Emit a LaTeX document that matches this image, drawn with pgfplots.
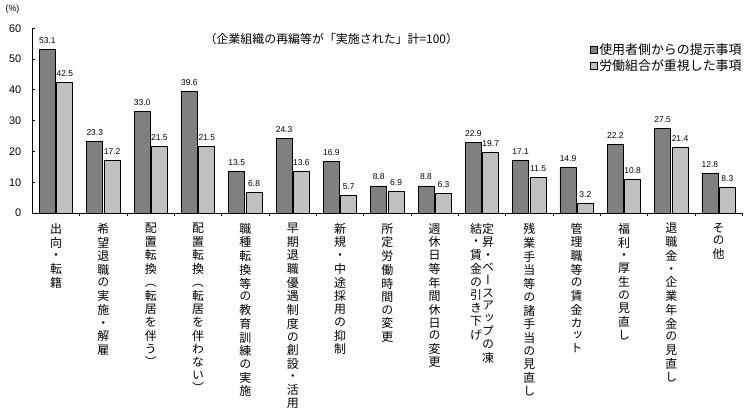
\documentclass[border=0pt]{standalone}
\usepackage{fontspec}
\usepackage{pgfplots}
\pgfplotsset{compat=1.18}
\setmainfont{Noto Sans CJK JP}
\newfontfamily\cjkv[RawFeature=+vert]{Noto Sans CJK JP}
\newfontfamily\num{Liberation Sans}
\definecolor{dk}{HTML}{808080}
\definecolor{lt}{HTML}{C0C0C0}
\def\vsres{}
\def\vsbuild#1{\gdef\vsres{}\vsloop#1\relax}
\def\vsloop#1{\ifx\relax#1\else\expandafter\gdef\expandafter\vsres\expandafter{\vsres#1\\}\expandafter\vsloop\fi}
\protected\def\V#1{\vsbuild{#1}\begin{tabular}[t]{@{}c@{}}\vsres\end{tabular}}
\protected\def\VV#1#2{\vsbuild{#1}\begin{tabular}[t]{@{}c@{}}\vsres\end{tabular}\vsbuild{#2}\begin{tabular}[t]{@{}c@{}}\vsres\end{tabular}}
\begin{document}
\begin{tikzpicture}
\begin{axis}[
  scale only axis,
  width=710.5bp, height=185bp,
  xmin=-0.5, xmax=14.5, ymin=0, ymax=60,
  clip=false,
  axis x line=bottom, axis y line=left,
  axis line style={-, line width=0.9bp, black},
  tick align=inside,
  major tick length=3bp,
  tick style={black, line width=0.8bp},
  ytick={0,10,...,60},
  yticklabel style={font=\num\fontsize{11}{11}\selectfont, inner sep=0pt, xshift=-11bp},
  /pgf/number format/assume math mode=true,
  xtick={0.5,1.5,...,14.5},
  xticklabels={},
  extra x ticks={0,1,...,14},
  extra x tick style={major tick length=0pt},
  extra x tick labels={{\V{出向・転籍}},{\V{希望退職の実施・解雇}},{\V{配置転換（転居を伴う）}},{\V{配置転換（転居を伴わない）}},{\V{職種転換等の教育訓練の実施}},{\V{早期退職優遇制度の創設・活用}},{\V{新規・中途採用の抑制}},{\V{所定労働時間の変更}},{\V{週休日等年間休日の変更}},{\VV{結・賃金の引き下げ}{定昇・ベースアップの凍}},{\V{残業手当等の諸手当の見直し}},{\V{管理職等の賃金カット}},{\V{福利・厚生の見直し}},{\V{退職金・企業年金の見直し}},{\V{その他}}},
  xticklabel style={font=\cjkv\fontsize{12}{12.6}\selectfont, anchor=north, inner sep=0pt, yshift=-10bp},
  ybar, bar width=16bp,
  legend image code/.code={\draw[#1, line width=0.6bp] (0bp,-3.5bp) rectangle (7bp,3.5bp);},
  nodes near coords={\num\fontsize{8.5}{8.5}\selectfont\pgfmathprintnumber[fixed,fixed zerofill,precision=1]{\pgfplotspointmeta}},
  nodes near coords style={anchor=base, inner sep=0pt, yshift=6bp, black},
  legend style={draw=none, fill=none, at={(0.7854,0.92)}, anchor=north west, inner sep=0pt, row sep=3.5bp, column sep=1.5bp, font=\fontsize{13}{13}\selectfont, nodes={inner sep=0pt}},
  legend cell align=left,
]
\addplot[fill=dk, draw=black, line width=0.8bp, bar shift=-8.7bp]
  coordinates {(0,53.1) (1,23.3) (2,33.0) (3,39.6) (4,13.5) (5,24.3) (6,16.9) (7,8.8) (8,8.8) (9,22.9) (10,17.1) (11,14.9) (12,22.2) (13,27.5) (14,12.8)};
\addplot[fill=lt, draw=black, line width=0.8bp, bar shift=8.7bp]
  coordinates {(0,42.5) (1,17.2) (2,21.5) (3,21.5) (4,6.8) (5,13.6) (6,5.7) (7,6.9) (8,6.3) (9,19.7) (10,11.5) (11,3.2) (12,10.8) (13,21.4) (14,8.3)};
\legend{使用者側からの提示事項, 労働組合が重視した事項}
\node[font=\num\fontsize{9}{9}\selectfont, inner sep=0pt] at ([xshift=-20bp,yshift=18.8bp]rel axis cs:0,1) {(\%)};
\node[font=\fontsize{12}{12}\selectfont, inner sep=0pt] at ([yshift=-11bp]rel axis cs:0.421,1) {（企業組織の再編等が「実施された」計=100）};
\coordinate (bl) at (rel axis cs:0,0);
\coordinate (tr) at (rel axis cs:1,1);
\end{axis}
\pgfresetboundingbox
\path[use as bounding box] ([xshift=-32.5bp,yshift=-203.7bp]bl) rectangle ([xshift=6.7bp,yshift=28.3bp]tr);
\end{tikzpicture}
\end{document}
